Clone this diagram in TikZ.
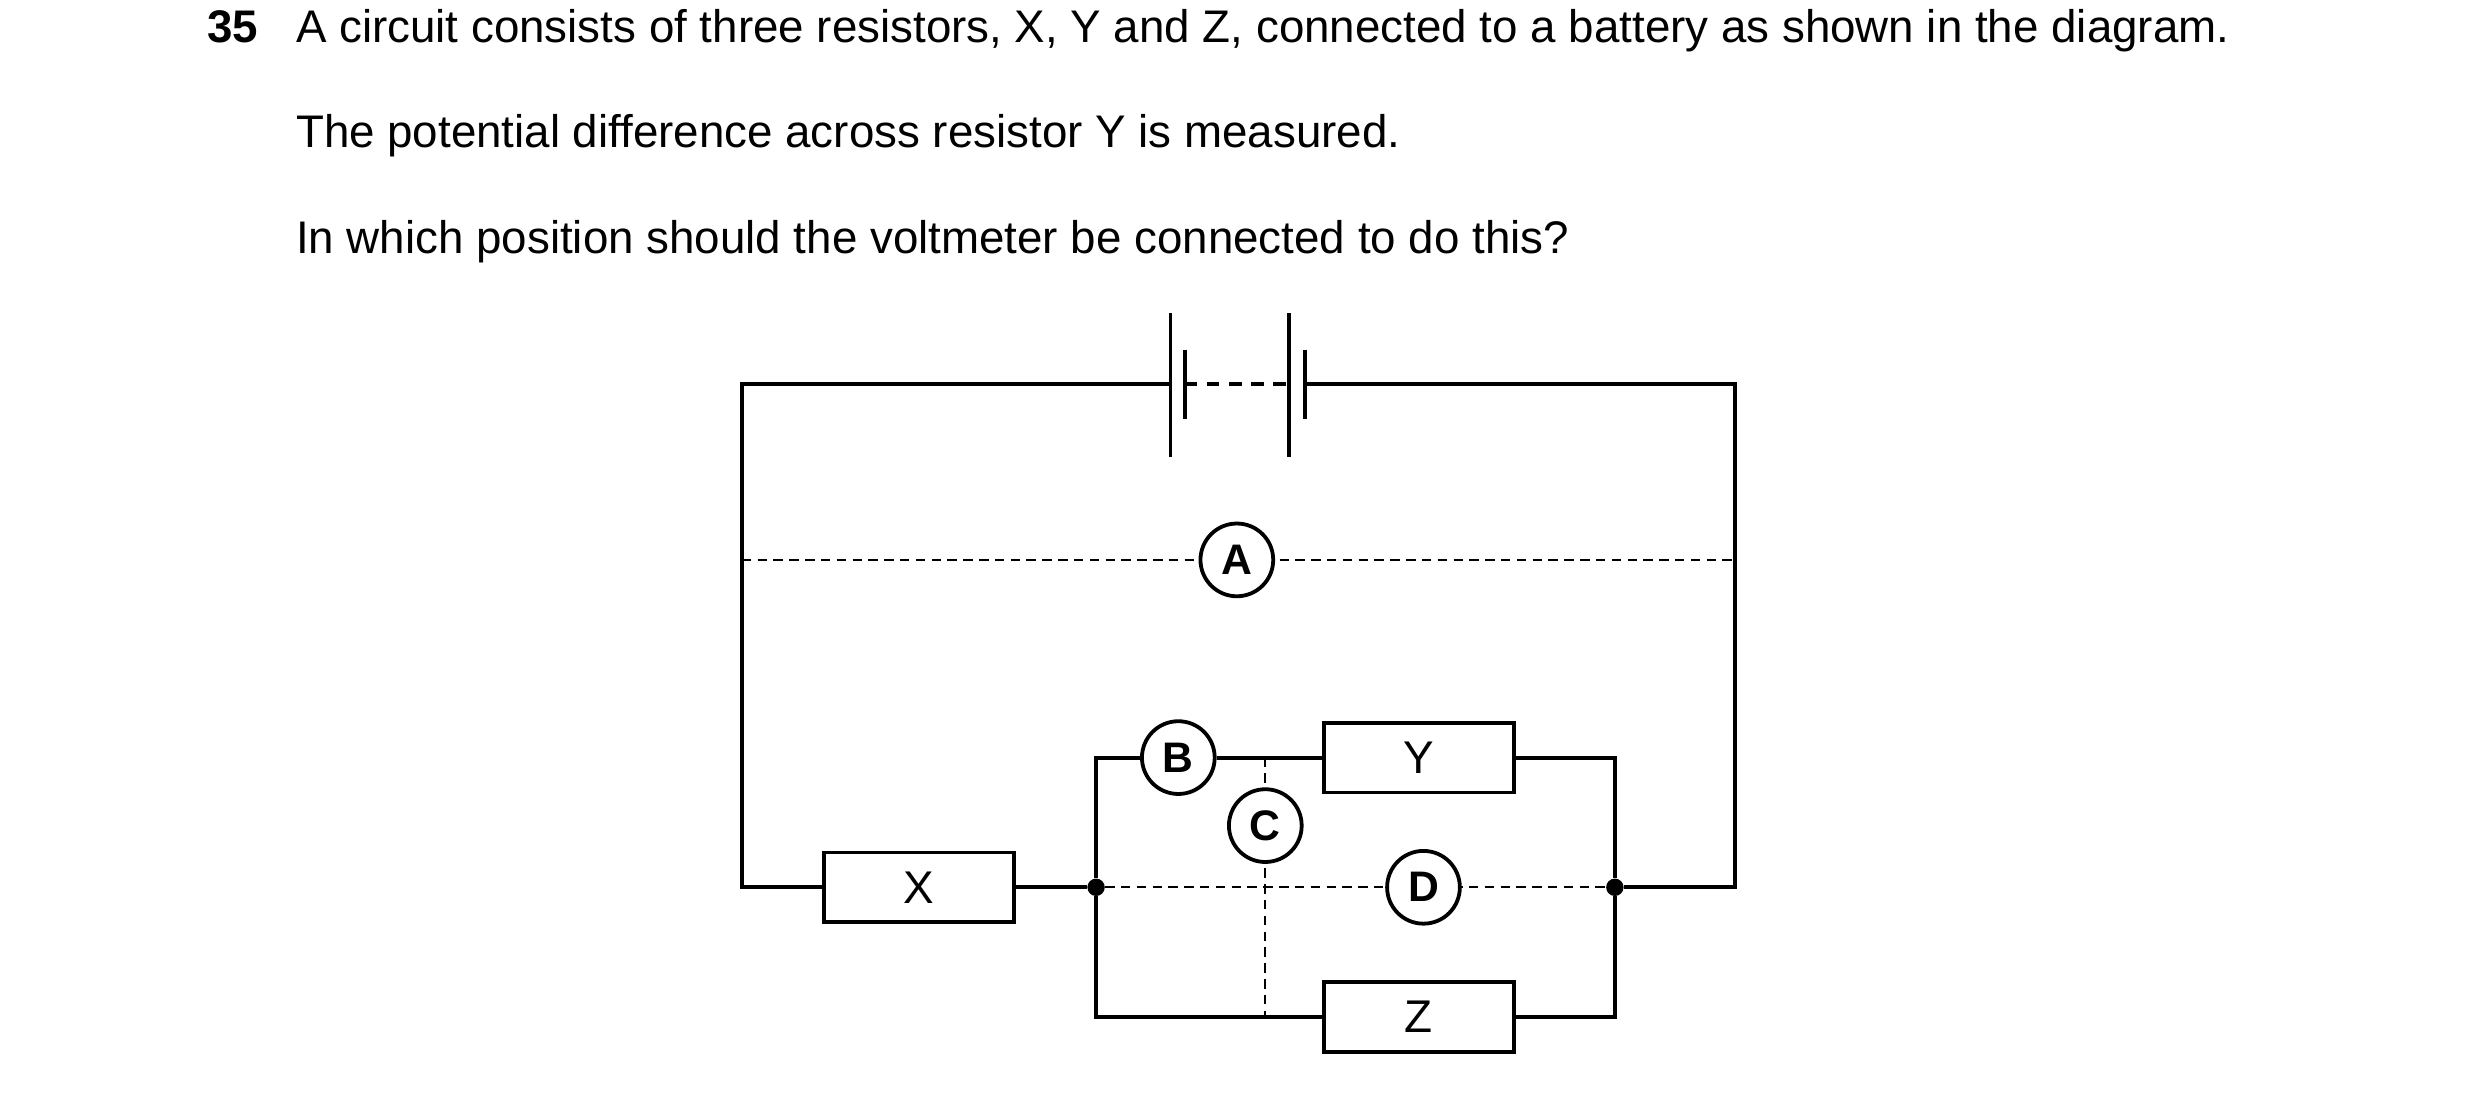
\documentclass[tikz,border=0pt]{standalone}
\usepackage{fontspec}
\setmainfont{Liberation Sans}
\tikzset{
  wire/.style={line width=2.4pt},
  probe/.style={dashed, line width=1.1pt, dash pattern=on 6pt off 4pt},
  meter/.style={circle, draw, line width=2.4pt, minimum size=46pt, inner sep=0pt, fill=white, font=\fontsize{27}{30}\selectfont\bfseries},
  res/.style={rectangle, draw, line width=2.4pt, minimum width=120pt, minimum height=44pt, inner sep=0pt, fill=white, font=\fontsize{29}{32}\selectfont},
  junc/.style={circle, fill, inner sep=0pt, minimum size=11pt}
}
\begin{document}
\begin{tikzpicture}[x=1pt,y=-1pt]
\useasboundingbox (0,0) rectangle (1568,692);
% question text
\begin{scope}[every node/.style={anchor=base west, inner sep=0pt, font=\fontsize{28.9}{34}\selectfont}]
\node at (131,27) {\textbf{35}};
\node at (187,27) {A circuit consists of three resistors, X, Y and Z, connected to a battery as shown in the diagram.};
\node at (187,93) {The potential difference across resistor Y is measured.};
\node at (187,160) {In which position should the voltmeter be connected to do this?};
\end{scope}
% corners and junctions
\coordinate (tl) at (469,243);
\coordinate (tr) at (1097,243);
\coordinate (bl) at (469,561);
\coordinate (br) at (1097,561);
\coordinate (b1) at (740,243);
\coordinate (b2) at (825,243);
\node[junc] (j1) at (693,561) {};
\node[junc] (j2) at (1021,561) {};
\coordinate (ul) at (693,479);
\coordinate (ur) at (1021,479);
\coordinate (ll) at (693,643);
\coordinate (lr) at (1021,643);
\coordinate (ct) at (800,479);
\coordinate (cb) at (800,643);
% probe lines first
\draw[probe] (469,354) -- (1097,354);
\draw[probe] (j1) -- (j2);
\draw[probe] (ct) -- (cb);
% components
\node[res] (X) at (581,561) {X};
\node[res] (Y) at (897,479) {Y};
\node[res] (Z) at (897,643) {Z};
\node[meter] (A) at (782,354) {A};
\node[meter] (B) at (745,479) {B};
\node[meter] (C) at (800,522) {C};
\node[meter] (D) at (900,561) {D};
% wires
\draw[wire] (b1) -- (tl) -- (bl) -- (X.west);
\draw[wire] (X.east) -- (j1);
\draw[wire] (b2) -- (tr) -- (br) -- (j2);
\draw[wire] (j1) -- (ul) -- (B.west);
\draw[wire] (B.east) -- (Y.west);
\draw[wire] (Y.east) -- (ur) -- (j2);
\draw[wire] (j1) -- (ll) -- (Z.west);
\draw[wire] (Z.east) -- (lr) -- (j2);
% battery
\draw[wire] (740,198) -- (740,289);
\draw[wire] (749,221) -- (749,265);
\draw[wire] (815,198) -- (815,289);
\draw[wire] (825,221) -- (825,265);
\draw[wire, dash pattern=on 8pt off 6pt] (749,243) -- (815,243);
\end{tikzpicture}
\end{document}
